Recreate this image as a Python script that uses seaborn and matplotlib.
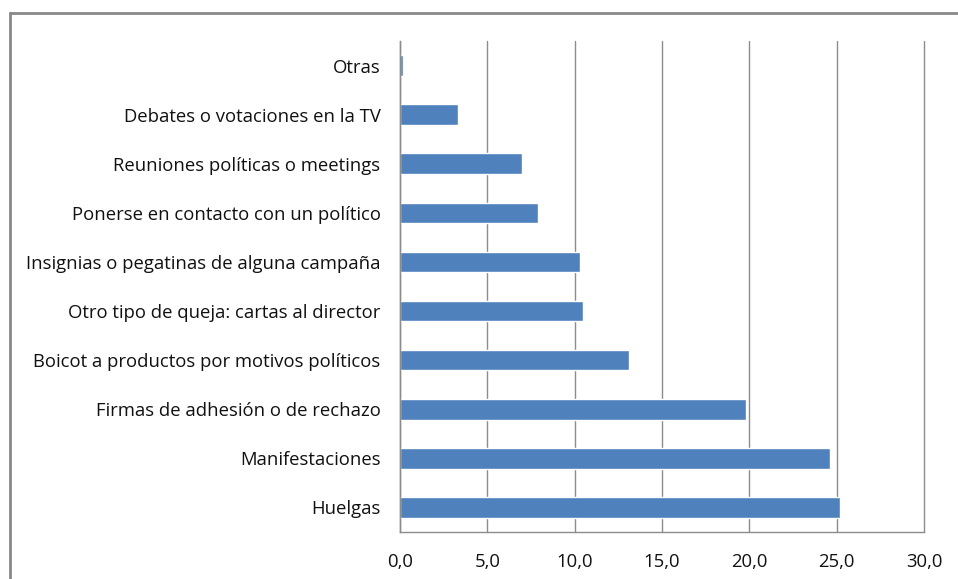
import numpy as np
import matplotlib
matplotlib.use('Agg')
import matplotlib.pyplot as plt
import seaborn as sns
from matplotlib.lines import Line2D

categorias = ['Otras',
              'Debates o votaciones en la TV',
              'Reuniones políticas o meetings',
              'Ponerse en contacto con un político',
              'Insignias o pegatinas de alguna campaña',
              'Otro tipo de queja: cartas al director',
              'Boicot a productos por motivos políticos',
              'Firmas de adhesión o de rechazo',
              'Manifestaciones',
              'Huelgas']
valores = [0.15, 3.3, 7.0, 7.9, 10.3, 10.5, 13.1, 19.8, 24.6, 25.2]
xticks = [0, 5, 10, 15, 20, 25, 30]

sns.set_style('white')
plt.rcParams['font.family'] = ['Open Sans', 'DejaVu Sans']

fig = plt.figure(figsize=(9.58, 5.79), dpi=100)
ax = fig.add_axes([400 / 958, 1 - 532 / 579, 524 / 958, 491 / 579])

sns.barplot(x=valores, y=categorias, orient='h', color='#4F81BD',
            saturation=1, width=0.42, ax=ax)

ax.set_xlim(0, 30)
ax.set_ylim(9.5, -0.5)
ax.set_xticks(xticks)
ax.set_xticklabels([('%.1f' % t).replace('.', ',') for t in xticks])
ax.xaxis.grid(True, color='#8c8c8c', linewidth=1)
for gl in ax.get_xgridlines():
    gl.set_clip_on(False)
ax.set_axisbelow(True)

ax.set_yticks(np.arange(-0.5, 10, 1), minor=True)
ax.tick_params(axis='y', which='major', length=0, pad=14, labelsize=13.3, labelcolor='#111111')
ax.tick_params(axis='y', which='minor', length=6, color='#8c8c8c', width=1, direction='out')
ax.tick_params(axis='x', which='major', length=6, color='#8c8c8c', width=1, direction='out',
               labelsize=13.3, labelcolor='#111111', pad=9)

for s in ['top', 'right']:
    ax.spines[s].set_visible(False)
for s in ['left', 'bottom']:
    ax.spines[s].set_color('#8c8c8c')
    ax.spines[s].set_linewidth(1)

# marco exterior (solo arriba e izquierda visibles)
top_y = 1 - 12.5 / 579
left_x = 9.5 / 958
fig.add_artist(Line2D([left_x, 1], [top_y, top_y], transform=fig.transFigure,
                      color='#888888', linewidth=2))
fig.add_artist(Line2D([left_x, left_x], [0, top_y], transform=fig.transFigure,
                      color='#888888', linewidth=2))

fig.savefig('out.png', dpi=100)
